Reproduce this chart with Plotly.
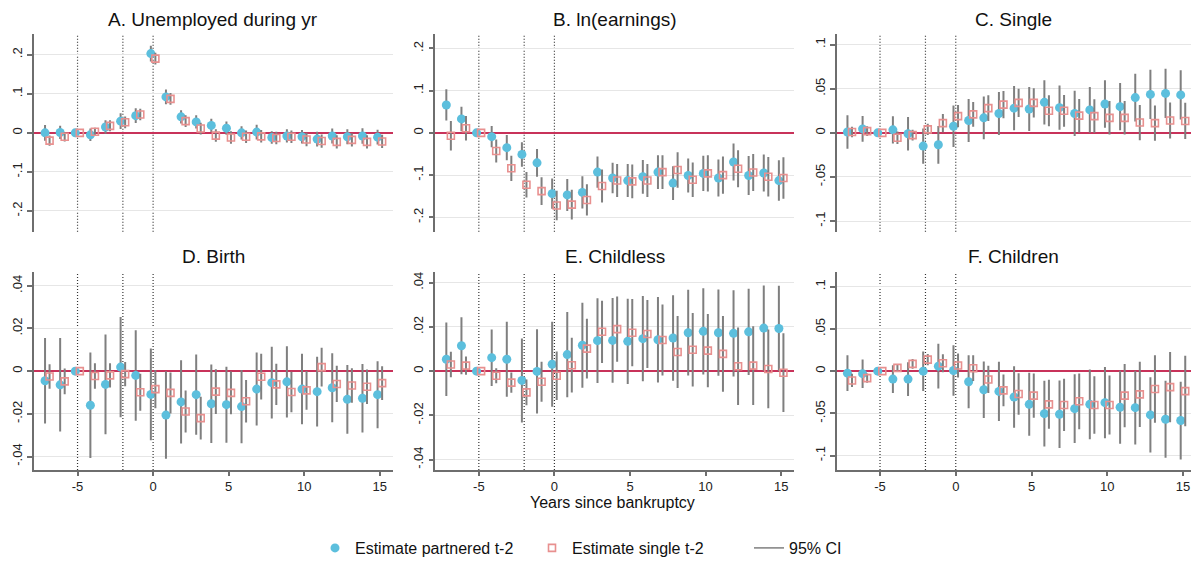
import plotly.graph_objects as go

# Event time (years relative to bankruptcy)
years = [-7, -6, -5, -4, -3, -2, -1, 0, 1, 2, 3, 4, 5, 6, 7, 8, 9, 10, 11, 12, 13, 14, 15]

panel_titles = ["A. Unemployed during yr", "B. ln(earnings)", "C. Single",
                "D. Birth", "E. Childless", "F. Children"]

# A. Unemployed during year: point estimates and 95% CI half-widths
unemp_partnered = [0.000, 0.001, 0, -0.005, 0.015, 0.030, 0.044, 0.203, 0.092, 0.041, 0.028, 0.019,
                   0.012, 0.000, 0.002, -0.012, -0.008, -0.010, -0.016, -0.008, -0.010, -0.008, -0.011]
unemp_partnered_ci = [0.020, 0.017, 0, 0.016, 0.017, 0.020, 0.019, 0.020, 0.019, 0.017, 0.017, 0.017,
                      0.017, 0.017, 0.019, 0.016, 0.017, 0.017, 0.019, 0.019, 0.019, 0.020, 0.019]
unemp_single = [-0.020, -0.010, 0, 0.003, 0.018, 0.027, 0.047, 0.190, 0.087, 0.030, 0.011, -0.007,
                -0.012, -0.010, -0.009, -0.013, -0.010, -0.017, -0.021, -0.023, -0.018, -0.023, -0.022]
unemp_single_ci = [0.013, 0.012, 0, 0.010, 0.014, 0.015, 0.015, 0.015, 0.015, 0.015, 0.015, 0.016,
                   0.016, 0.016, 0.016, 0.016, 0.016, 0.017, 0.017, 0.017, 0.017, 0.017, 0.017]

# B. ln(earnings)
earn_partnered = [0.066, 0.033, 0, -0.009, -0.035, -0.051, -0.071, -0.144, -0.147, -0.141, -0.093, -0.107,
                  -0.113, -0.104, -0.093, -0.119, -0.101, -0.096, -0.107, -0.069, -0.101, -0.095, -0.113]
earn_partnered_ci = [0.037, 0.029, 0, 0.025, 0.030, 0.029, 0.033, 0.036, 0.038, 0.038, 0.037, 0.036,
                     0.039, 0.040, 0.040, 0.040, 0.040, 0.042, 0.044, 0.044, 0.046, 0.044, 0.048]
earn_single = [-0.007, 0.011, 0, -0.043, -0.084, -0.123, -0.138, -0.172, -0.170, -0.159, -0.126, -0.113,
               -0.115, -0.113, -0.093, -0.088, -0.111, -0.096, -0.100, -0.085, -0.094, -0.104, -0.107]
earn_single_ci = [0.035, 0.029, 0, 0.027, 0.030, 0.030, 0.033, 0.035, 0.035, 0.037, 0.039, 0.039,
                  0.040, 0.039, 0.040, 0.042, 0.041, 0.043, 0.044, 0.044, 0.044, 0.047, 0.049]

# C. Single
single_partnered = [0.001, 0.0045, 0, 0.0034, -0.001, -0.015, -0.0135, 0.0075, 0.014, 0.017, 0.022, 0.028,
                    0.027, 0.0346, 0.0286, 0.022, 0.026, 0.0327, 0.0297, 0.040, 0.0436, 0.0447, 0.043]
single_partnered_ci = [0.019, 0.0145, 0, 0.0154, 0.019, 0.020, 0.0214, 0.0235, 0.0243, 0.0243, 0.0243, 0.025,
                       0.025, 0.025, 0.025, 0.0256, 0.026, 0.027, 0.0267, 0.027, 0.028, 0.028, 0.028]
single_single = [0.001, 0.002, 0, -0.0056, -0.0026, 0.004, 0.011, 0.019, 0.021, 0.028, 0.032, 0.034,
                 0.034, 0.025, 0.025, 0.0195, 0.019, 0.017, 0.017, 0.0117, 0.011, 0.014, 0.0135]
single_single_ci = [0.006, 0.0055, 0, 0.007, 0.0062, 0.0064, 0.0103, 0.0126, 0.014, 0.0147, 0.0154, 0.016,
                    0.0165, 0.0175, 0.018, 0.019, 0.019, 0.019, 0.019, 0.020, 0.020, 0.0205, 0.0205]

# D. Birth
birth_partnered = [-0.0045, -0.0064, 0, -0.016, -0.0062, 0.0019, -0.002, -0.0109, -0.0206, -0.0144, -0.011, -0.0153,
                   -0.0157, -0.0166, -0.0084, -0.0054, -0.005, -0.0084, -0.0096, -0.0078, -0.0132, -0.0127, -0.011]
birth_partnered_ci = [0.020, 0.0219, 0, 0.0247, 0.0234, 0.0235, 0.0212, 0.0215, 0.0205, 0.0195, 0.0188, 0.0184,
                      0.0178, 0.0172, 0.0171, 0.0168, 0.0167, 0.0165, 0.0163, 0.0162, 0.0161, 0.016, 0.0157]
birth_single = [-0.0025, -0.0048, 0, -0.0023, -0.002, -0.0014, -0.0099, -0.0084, -0.0102, -0.0189, -0.022, -0.0096,
                -0.0102, -0.0141, -0.0026, -0.0062, -0.0098, -0.009, 0.0019, -0.006, -0.0067, -0.0073, -0.0056]
birth_single_ci = [0.0057, 0.006, 0, 0.006, 0.0057, 0.0057, 0.0087, 0.009, 0.0096, 0.0098, 0.010, 0.0105,
                   0.010, 0.010, 0.0107, 0.0097, 0.0095, 0.0091, 0.0091, 0.0085, 0.0081, 0.0081, 0.0079]

# E. Childless
childless_partnered = [0.0054, 0.0115, 0, 0.0061, 0.0054, -0.0042, -0.0001, 0.0031, 0.0075, 0.0117, 0.0138, 0.0139,
                       0.0135, 0.0147, 0.0142, 0.015, 0.0174, 0.018, 0.0174, 0.0171, 0.0178, 0.0195, 0.0193]
childless_partnered_ci = [0.0166, 0.0129, 0, 0.0128, 0.017, 0.019, 0.0191, 0.0192, 0.0193, 0.0192, 0.0192, 0.0192,
                          0.0193, 0.0193, 0.0193, 0.0193, 0.0194, 0.0195, 0.0195, 0.0195, 0.0195, 0.0193, 0.0193]
childless_single = [0.003, 0.0025, 0, -0.0021, -0.0052, -0.0096, -0.0048, -0.0021, 0.0027, 0.0102, 0.0178, 0.019,
                    0.0174, 0.0168, 0.0141, 0.0087, 0.0097, 0.0093, 0.0078, 0.0022, 0.0025, 0.001, -0.0007]
childless_single_ci = [0.0058, 0.0041, 0, 0.0034, 0.0046, 0.0058, 0.009, 0.011, 0.0124, 0.0135, 0.0141, 0.0148,
                       0.0152, 0.0154, 0.0161, 0.0163, 0.0166, 0.0166, 0.0171, 0.0175, 0.0178, 0.0178, 0.0178]

# F. Children
children_partnered = [-0.0024, -0.003, 0, -0.0094, -0.0094, 0.0, 0.0059, 0.0008, -0.0126, -0.022, -0.024, -0.0306,
                      -0.0393, -0.0503, -0.051, -0.0444, -0.0393, -0.0373, -0.0428, -0.0432, -0.0518, -0.057, -0.0585]
children_partnered_ci = [0.0212, 0.0169, 0, 0.0165, 0.020, 0.0234, 0.0265, 0.030, 0.0314, 0.0334, 0.035, 0.0363,
                         0.0373, 0.039, 0.040, 0.0407, 0.0412, 0.0422, 0.0432, 0.0438, 0.0446, 0.0456, 0.046]
children_single = [-0.011, -0.0082, 0, 0.0039, 0.0086, 0.0137, 0.0094, 0.0067, 0.0035, -0.0098, -0.0228, -0.027,
                   -0.029, -0.0393, -0.040, -0.0357, -0.040, -0.040, -0.029, -0.0275, -0.0212, -0.0189, -0.0236]
children_single_ci = [0.0079, 0.0055, 0, 0.0037, 0.0057, 0.0067, 0.0106, 0.0143, 0.0153, 0.0161, 0.0189, 0.0245,
                      0.0262, 0.029, 0.031, 0.033, 0.034, 0.035, 0.0375, 0.0387, 0.040, 0.0417, 0.0417]

# Y-axis tick labels per panel
ticks_wide = [-0.2, -0.1, 0, 0.1, 0.2]
ticks_wide_text = ["-.2", "-.1", "0", ".1", ".2"]
ticks_mid = [-0.1, -0.05, 0, 0.05, 0.1]
ticks_mid_text = ["-.1", "-.05", "0", ".05", ".1"]
ticks_small = [-0.04, -0.02, 0, 0.02, 0.04]
ticks_small_text = ["-.04", "-.02", "0", ".02", ".04"]
x_ticks = [-5, 0, 5, 10, 15]
x_ticks_text = ["-5", "0", "5", "10", "15"]
event_lines = [-5, -2, 0]

panels = [
    (unemp_partnered, unemp_partnered_ci, unemp_single, unemp_single_ci, ticks_wide, ticks_wide_text, 0.253),
    (earn_partnered, earn_partnered_ci, earn_single, earn_single_ci, ticks_wide, ticks_wide_text, 0.234),
    (single_partnered, single_partnered_ci, single_single, single_single_ci, ticks_mid, ticks_mid_text, 0.112),
    (birth_partnered, birth_partnered_ci, birth_single, birth_single_ci, ticks_small, ticks_small_text, 0.0463),
    (childless_partnered, childless_partnered_ci, childless_single, childless_single_ci, ticks_small, ticks_small_text, 0.0447),
    (children_partnered, children_partnered_ci, children_single, children_single_ci, ticks_mid, ticks_mid_text, 0.117),
]

W, H = 1191, 565
FONT = "Liberation Sans, Arial, sans-serif"
BLUE = "#5cbfdd"
PINK = "#e8908f"
CI_GRAY = "#7f7f7f"
AXIS_GRAY = "#6e6e6e"
ZERO_RED = "#c8325a"
DODGE = 0.15

col_px = [(33.7, 393.0), (435.3, 794.0), (836.7, 1191.0)]
col_xrange = [[-7.9, 15.87], [-7.88, 15.85], [-7.86, 15.53]]
row_px = [(34.3, 233.3), (274.3, 473.3)]

fig = go.Figure()
layout = {}
shapes = []
annotations = []

for i, (pe, pc, se, sc, yt, ytt, yr) in enumerate(panels):
    r, c = divmod(i, 3)
    n = "" if i == 0 else str(i + 1)
    xa, ya = "x" + n, "y" + n
    x_part = [t - DODGE for t in years]
    x_sing = [t + DODGE for t in years]

    fig.add_trace(go.Scatter(
        x=x_part, y=pe, xaxis=xa, yaxis=ya, mode="markers",
        name="Estimate partnered t-2", showlegend=(i == 0), legendrank=1,
        marker=dict(symbol="circle", size=9, color=BLUE, line=dict(width=0)),
        error_y=dict(type="data", array=pc, symmetric=True, color=CI_GRAY, thickness=2, width=0),
    ))
    fig.add_trace(go.Scatter(
        x=x_sing, y=se, xaxis=xa, yaxis=ya, mode="markers",
        name="Estimate single t-2", showlegend=(i == 0), legendrank=2,
        marker=dict(symbol="square-open", size=7, color=PINK, line=dict(width=1.6, color=PINK)),
        error_y=dict(type="data", array=sc, symmetric=True, color=CI_GRAY, thickness=2, width=0),
    ))

    x0, x1 = col_px[c]
    y0, y1 = row_px[r]
    bottom = r == 1
    layout["xaxis" + n] = dict(
        domain=[x0 / W, x1 / W], range=col_xrange[c], anchor=ya,
        showgrid=False, zeroline=False,
        showline=bottom, linecolor=AXIS_GRAY, linewidth=1.5,
        ticks="outside" if bottom else "", ticklen=4, tickwidth=1.5, tickcolor=AXIS_GRAY,
        tickvals=x_ticks, ticktext=x_ticks_text, showticklabels=bottom,
        tickfont=dict(family=FONT, size=13, color="#222"),
    )
    layout["yaxis" + n] = dict(
        domain=[1 - y1 / H, 1 - y0 / H], range=[-yr, yr], anchor=xa,
        showgrid=True, gridcolor="#e6e6e6", gridwidth=1,
        zeroline=True, zerolinecolor=ZERO_RED, zerolinewidth=2,
        showline=True, linecolor=AXIS_GRAY, linewidth=1.5,
        ticks="outside", ticklen=5, tickwidth=1.5, tickcolor=AXIS_GRAY,
        tickvals=yt, ticktext=ytt, tickangle=-90,
        tickfont=dict(family=FONT, size=13, color="#222"),
    )
    for ev in event_lines:
        shapes.append(dict(type="line", xref=xa, yref=ya + " domain", x0=ev, x1=ev, y0=0, y1=1,
                           line=dict(color="#333", width=1.2, dash="1px,2px"), layer="below"))
    title_y = [19.4, 258.6][r]
    annotations.append(dict(text=panel_titles[i], xref="paper", yref="paper",
                            x=(x0 + x1) / 2 / W, y=1 - title_y / H, xanchor="center", yanchor="middle",
                            showarrow=False, font=dict(family=FONT, size=19, color="#111")))

annotations.append(dict(text="Years since bankruptcy", xref="paper", yref="paper",
                        x=(col_px[0][0] + col_px[2][1]) / 2 / W, y=1 - 506 / H,
                        xanchor="center", yanchor="middle", showarrow=False,
                        font=dict(family=FONT, size=16, color="#111")))

# Legend entry for the confidence intervals
fig.add_trace(go.Scatter(x=[None], y=[None], mode="lines", name="95% CI", legendrank=3,
                         line=dict(color=CI_GRAY, width=1.5), showlegend=True))

fig.update_layout(
    width=W, height=H, margin=dict(l=0, r=0, t=0, b=0),
    paper_bgcolor="white", plot_bgcolor="white",
    font=dict(family=FONT, size=13, color="#111"),
    shapes=shapes, annotations=annotations,
    legend=dict(orientation="h", x=315 / W, xanchor="left", y=1 - 552 / H, yanchor="middle",
                entrywidth=172, entrywidthmode="pixels",
                font=dict(family=FONT, size=16, color="#111"), bgcolor="rgba(0,0,0,0)"),
    **layout,
)

fig.write_html("out.html")
